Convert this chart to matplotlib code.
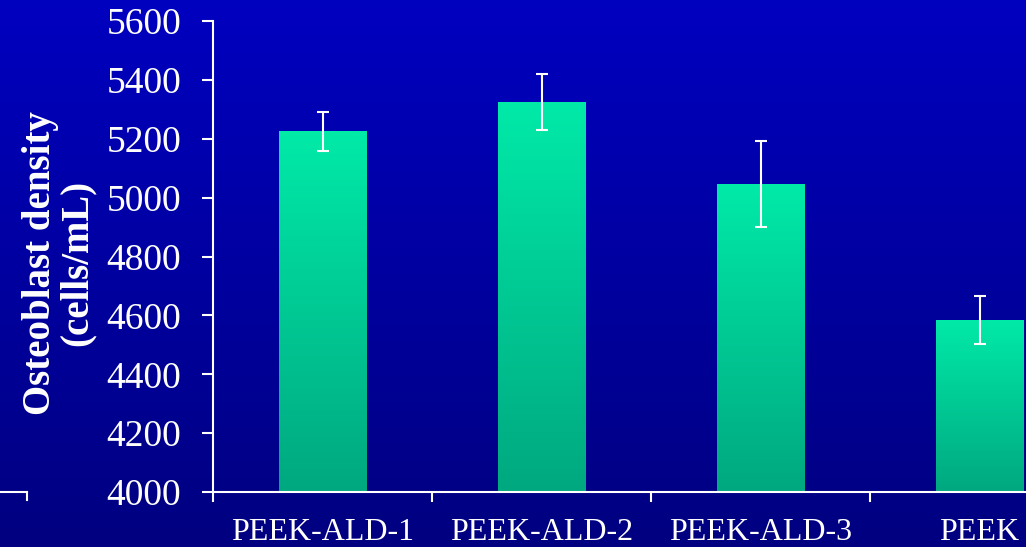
import numpy as np
import matplotlib
matplotlib.use("Agg")
import matplotlib.pyplot as plt
from matplotlib.lines import Line2D
from matplotlib.colors import LinearSegmentedColormap

groups = ["PEEK-ALD-1", "PEEK-ALD-2", "PEEK-ALD-3", "PEEK"]
density = [5225, 5325, 5045, 4585]
errors = [66, 95, 146, 82]
yticks = [4000, 4200, 4400, 4600, 4800, 5000, 5200, 5400, 5600]

plt.rcParams['font.family'] = ['Liberation Serif', 'DejaVu Serif']

fig = plt.figure(figsize=(10.26, 5.47), dpi=100)

# background gradient (lighter blue at the top)
bg = fig.add_axes([0, 0, 1, 1])
bg_cmap = LinearSegmentedColormap.from_list("bg", ["#000080", "#0000c0"])
bg.imshow(np.linspace(0, 1, 256).reshape(-1, 1), cmap=bg_cmap, aspect='auto',
          origin='lower', extent=[0, 1, 0, 1])
bg.set_axis_off()

W, H = 1026, 547
left, right, top, bottom = 213, 1089, 21, 492
ax = fig.add_axes([left / W, (H - bottom) / H, (right - left) / W, (bottom - top) / H])
ax.patch.set_alpha(0)

x = np.arange(len(groups))
bars = ax.bar(x, density, width=0.4, color="#00d8a0", zorder=2)

# vertical gradient on each bar
bar_cmap = LinearSegmentedColormap.from_list("bar", ["#00a880", "#00eaa8"])
grad = np.linspace(0, 1, 256).reshape(-1, 1)
for b in bars:
    bx, by = b.get_x(), b.get_y()
    bw, bh = b.get_width(), b.get_height()
    im = ax.imshow(grad, cmap=bar_cmap, aspect='auto', origin='lower',
                   extent=[bx, bx + bw, 4000, by + bh], zorder=2)
    im.set_clip_path(b)
    b.set_facecolor('none')

ax.errorbar(x, density, yerr=errors, fmt='none', ecolor='white',
            elinewidth=1.5, capsize=4.5, capthick=1.5, zorder=3)

ax.set_xlim(-0.5, 3.5)
ax.set_ylim(4000, 5600)
ax.set_yticks(yticks)
ax.set_xticks(x)
ax.set_xticklabels(groups)
ax.set_xticks([-0.5, 0.5, 1.5, 2.5], minor=True)

for s in ['top', 'right']:
    ax.spines[s].set_visible(False)
for s in ['left', 'bottom']:
    ax.spines[s].set_color('white')
    ax.spines[s].set_linewidth(1.5)

ax.tick_params(axis='y', direction='out', length=8, width=1.5, colors='white',
               labelsize=27, pad=15)
ax.tick_params(axis='x', which='major', length=0, colors='white',
               labelsize=23, pad=19)
ax.tick_params(axis='x', which='minor', direction='out', length=7, width=1.5,
               colors='white')

fig.text(59 / W, 1 - 263 / H, "Osteoblast density\n(cells/mL)", rotation=90,
         ha='center', va='center', multialignment='center', color='white',
         fontsize=28, fontweight='bold', linespacing=1.0)

# fragment of a neighbouring axis at the bottom-left edge
fig.add_artist(Line2D([0, 27 / W], [1 - 492 / H, 1 - 492 / H], color='white', lw=1.5))
fig.add_artist(Line2D([27 / W, 27 / W], [1 - 492 / H, 1 - 500 / H], color='white', lw=1.5))

fig.savefig("out.png", dpi=100)
